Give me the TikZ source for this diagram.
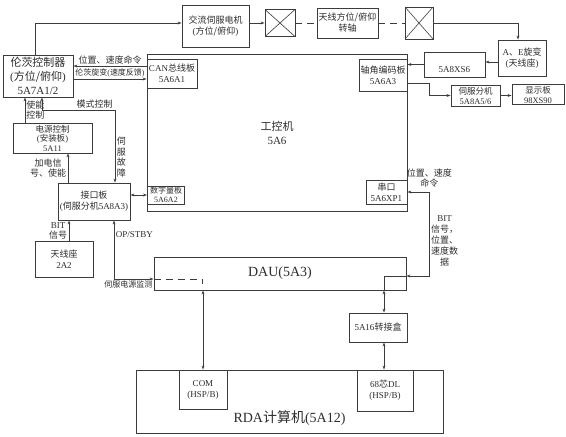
\documentclass[tikz,border=0pt]{standalone}
\usepackage{fontspec}
\setmainfont{Liberation Serif}
\newfontfamily\cjk{Noto Sans CJK SC}
\newcommand{\zh}[1]{{\cjk #1}}
\definecolor{lncol}{RGB}{60,60,60}
\definecolor{txcol}{RGB}{45,45,45}
\usetikzlibrary{arrows.meta}

\begin{document}
\begin{tikzpicture}[x=1pt, y=-1pt,
    box/.style={draw=lncol, line width=0.8pt, fill=white, align=center, text=txcol,
                inner sep=1pt, font=\fontsize{9}{11}\selectfont},
    xbox/.style={box, path picture={\draw[lncol, line width=0.6pt]
                (path picture bounding box.south west) -- (path picture bounding box.north east)
                (path picture bounding box.north west) -- (path picture bounding box.south east);}},
    lbl/.style={align=center, text=txcol, inner sep=1.5pt, font=\fontsize{9}{10.5}\selectfont},
    arr/.style={-{Stealth[length=4pt,width=2.8pt]}, draw=lncol, line width=0.6pt},
    darr/.style={{Stealth[length=4pt,width=2.8pt]}-{Stealth[length=4pt,width=2.8pt]}, draw=lncol, line width=0.6pt},
    dsh/.style={draw=lncol, line width=0.8pt, dash pattern=on 7pt off 5pt}
  ]
    \useasboundingbox (0,0) rectangle (566,437);

    % top chain
    \node[box, minimum width=70, minimum height=42, font=\fontsize{11}{14}\selectfont] (lenze) at (38,76) {\zh{伦茨控制器}\\(\zh{方位/俯仰})\\5A7A1/2};
    \node[box, minimum width=67, minimum height=42] (motor) at (215.5,26) {\zh{交流伺服电机}\\(\zh{方位/俯仰})};
    \node[xbox, minimum width=30, minimum height=27] (xa) at (280,23) {};
    \node[box, minimum width=61, minimum height=30] (shaft) at (347.5,23) {\zh{天线方位/俯仰}\\\zh{转轴}};
    \node[xbox, minimum width=28, minimum height=32] (xb) at (419,23) {};
    \node[box, minimum width=48, minimum height=36] (resolver) at (522,58) {A\zh{、}E\zh{旋变}\\(\zh{天线座})};
    \node[box, minimum width=61, minimum height=25] (xs6) at (454.5,64.5) {\vphantom{A}\\5A8XS6};

    % industrial computer
    \node[box, minimum width=260, minimum height=157, font=\fontsize{11}{14}\selectfont] (ipc) at (277,132.5) {\zh{工控机}\\5A6};
    \node[box, minimum width=50, minimum height=29] (can) at (172,73.5) {CAN\zh{总线板}\\5A6A1};
    \node[box, minimum width=48, minimum height=32] (encoder) at (383,75) {\zh{轴角编码板}\\5A6A3};
    \node[box, minimum width=37, minimum height=18, font=\fontsize{8}{9}\selectfont] (dio) at (166,195) {\zh{数字量板}\\5A6A2};
    \node[box, minimum width=41, minimum height=24] (serial) at (386.5,192) {\zh{串口}\\5A6XP1};
    \node[box, minimum width=49, minimum height=21, font=\fontsize{8.5}{10}\selectfont] (servo) at (475.5,95.5) {\zh{伺服分机}\\5A8A5/6};
    \node[box, minimum width=52, minimum height=20, font=\fontsize{8.5}{10}\selectfont] (display) at (538,94.5) {\zh{显示板}\\98XS90};

    % left column
    \node[box, minimum width=79, minimum height=30, font=\fontsize{8.5}{9.5}\selectfont] (power) at (52.5,138) {\zh{电源控制}\\(\zh{安装板})\\5A11};
    \node[box, minimum width=72, minimum height=37] (iface) at (94,201.5) {\zh{接口板}\\(\zh{伺服分机}5A8A3)};
    \node[box, minimum width=58, minimum height=36] (base) at (64,259) {\zh{天线座}\\2A2};

    % bottom
    \node[box, minimum width=252, minimum height=33, font=\fontsize{14}{16}\selectfont] (dau) at (280,273.5) {DAU(5A3)};
    \node[box, minimum width=58, minimum height=29] (adapter) at (378,327.5) {5A16\zh{转接盒}};
    \node[box, minimum width=307, minimum height=63, text height=44pt, text depth=3pt, font=\fontsize{14}{16}\selectfont] (rda) at (289.5,401.5) {RDA\zh{计算机}(5A12)};
    \node[box, minimum width=48, minimum height=39] (com) at (203,389.5) {COM\\(HSP/B)};
    \node[box, minimum width=56, minimum height=41] (dl) at (385,390.5) {68\zh{芯}DL\\(HSP/B)};

    % Arrows
    \draw[arr] ([xshift=-3pt]lenze.north) |- ([yshift=3pt]motor.west);
    \draw[arr] ([yshift=3pt]motor.east) -- (xa.west);
    \draw[dsh] (xa.east) -- (shaft.west);
    \draw[dsh] (shaft.east) -- (xb.west);
    \draw[arr] (xb.east) -| ([xshift=-4pt]resolver.north);
    \draw[arr] (resolver.west |- 0,62) -- (xs6.east |- 0,62);
    \draw[arr] (xs6.west) -- (xs6.west -| encoder.east);
    \draw[arr] ([yshift=-8pt]encoder.east) -- ++(22,0) |- (servo.west);
    \draw[arr] (servo.east) -- (servo.east -| display.west);

    \draw[arr] ([yshift=7.5pt]can.west) -- ([yshift=7.5pt]can.west -| lenze.east)
      node[midway, above, lbl] {\zh{位置、速度命令}};
    \draw[arr] ([yshift=-5.5pt]can.west -| lenze.east) -- ([yshift=-5.5pt]can.west)
      node[midway, above, lbl, font=\fontsize{8}{10}\selectfont] {\zh{伦茨旋变}(\zh{速度反馈})};

    \draw[arr] ([xshift=-13pt]lenze.south |- power.north) -- ([xshift=-13pt]lenze.south)
      node[midway, right, lbl, inner sep=1pt, font=\fontsize{9}{10}\selectfont] {\zh{使能}\\\zh{控制}};
    \draw[darr] ([xshift=4pt]lenze.south) -- ++(0,13) -| ([xshift=21pt]iface.north)
      node[pos=0.36, above, lbl] {\zh{模式控制}}
      node[pos=0.825, right, lbl] {\zh{伺}\\\zh{服}\\\zh{故}\\\zh{障}};
    \draw[arr] ([xshift=-26pt]iface.north) -- ([xshift=-26pt]iface.north |- power.south)
      node[midway, left, lbl, font=\fontsize{9}{10}\selectfont] {\zh{加电信}\\\zh{号、使能}};
    \draw[arr] ([xshift=5pt]base.north) -- ([xshift=5pt]base.north |- iface.south)
      node[midway, left, lbl, font=\fontsize{9}{10}\selectfont] {BIT\\\zh{信号}};
    \draw[darr] (iface.east |- dio.west) -- (dio.west);

    \draw[darr] ([xshift=20pt]iface.south) |- ([yshift=-5.5pt]dau.west)
      node[pos=0.12, right, lbl] {OP/STBY}
      node[pos=1, below left, lbl, inner sep=1pt, font=\fontsize{8}{9}\selectfont] {\zh{伺服电源监测}};
    \draw[dsh] ([yshift=-5.5pt]dau.west) -- ++(49,0) -- ++(0,5);
    \draw[darr] (com.north) -- (com.north |- dau.south);

    \draw[darr] (serial.east) -- ++(22,0)
      node[above, lbl, yshift=3pt, font=\fontsize{9}{10}\selectfont] {\zh{位置、速度}\\\zh{命令}}
      |- ([yshift=-2.5pt]dau.east)
      node[pos=0.29, right, lbl, font=\fontsize{9}{11}\selectfont] {BIT\\\zh{信号，}\\\zh{位置、}\\\zh{速度数}\\\zh{据}};
    \draw[draw=lncol, line width=0.6pt] ([yshift=-2.5pt]dau.east) -| ([xshift=6pt]adapter.north |- dau.south);
    \draw[darr] ([xshift=6pt]adapter.north |- dau.south) -- ([xshift=6pt]adapter.north);
    \draw[darr] ([xshift=6pt]adapter.south) -- ([xshift=6pt]adapter.south |- dl.north);
  \end{tikzpicture}
\end{document}
